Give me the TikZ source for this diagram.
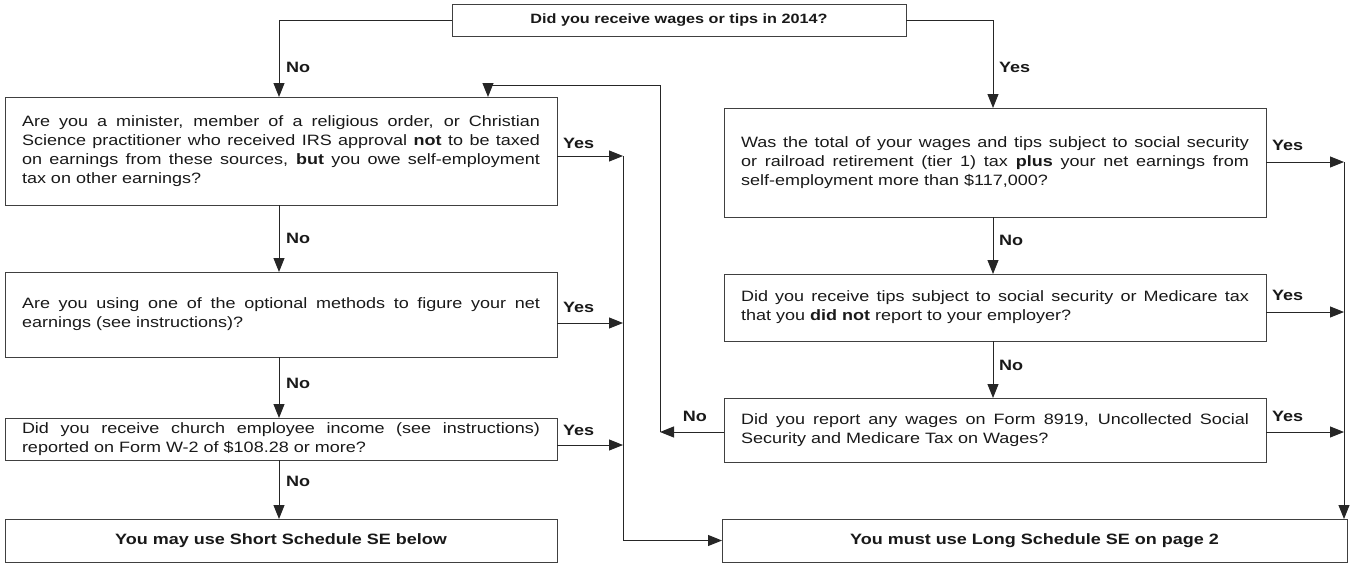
\documentclass[tikz,border=0pt]{standalone}
\usepackage{fontspec}
\setmainfont{Liberation Sans}[FakeStretch=1.2]
\usetikzlibrary{arrows.meta}
\newcommand\qfont{\fontsize{15pt}{19pt}\selectfont}
\newcommand\qtext[2]{\parbox{#1}{\qfont\hyphenpenalty=10000 #2}}
\tikzset{
  qbox/.style={draw=black!75, line width=0.9pt, anchor=north west, inner sep=0pt, outer sep=0pt, text=black!90},
  conn/.style={draw=black!85, line width=1pt},
  arr/.style={conn, -{Triangle[length=14pt,width=11pt]}},
  lbl/.style={font=\qfont\bfseries, inner sep=0pt, text=black!90},
}
\begin{document}
\begin{tikzpicture}[x=1pt,y=-1pt]
\useasboundingbox (0,0) rectangle (1352,565);
% boxes
\node[qbox, minimum width=454pt, minimum height=32pt, font=\fontsize{13.5pt}{16pt}\selectfont\bfseries] (T) at (452,4) {Did you receive wages or tips in 2014?};
\node[qbox, minimum width=552pt, minimum height=108pt] (L1) at (5,97) {\qtext{518pt}{Are you a minister, member of a religious order, or Christian\linebreak Science practitioner who received IRS approval \textbf{not} to be taxed\linebreak on earnings from these sources, \textbf{but} you owe self-employment\linebreak tax on other earnings?}};
\node[qbox, minimum width=552pt, minimum height=85pt] (L2) at (5,272) {\qtext{518pt}{Are you using one of the optional methods to figure your net\linebreak earnings (see instructions)?}};
\node[qbox, minimum width=552pt, minimum height=42pt] (L3) at (5,418) {\qtext{518pt}{Did you receive church employee income (see instructions)\linebreak reported on Form W-2 of \$108.28 or more?}};
\node[qbox, minimum width=552pt, minimum height=43pt, font=\qfont\bfseries] (S) at (5,519) {You may use Short Schedule SE below};
\node[qbox, minimum width=542pt, minimum height=109pt] (R1) at (724,108) {\qtext{508pt}{Was the total of your wages and tips subject to social security\linebreak or railroad retirement (tier 1) tax \textbf{plus} your net earnings from\linebreak self-employment more than \$117,000?}};
\node[qbox, minimum width=542pt, minimum height=67pt] (R2) at (724,274) {\qtext{508pt}{Did you receive tips subject to social security or Medicare tax\linebreak that you \textbf{did not} report to your employer?}};
\node[qbox, minimum width=542pt, minimum height=64pt] (R3) at (724,398) {\qtext{508pt}{Did you report any wages on Form 8919, Uncollected Social\linebreak Security and Medicare Tax on Wages?}};
\node[qbox, minimum width=625pt, minimum height=43pt, font=\qfont\bfseries] (LB) at (722,519) {You must use Long Schedule SE on page 2};
% helper coordinates
\coordinate (nox) at (279,0);
\coordinate (yesx) at (993,0);
\coordinate (loopx) at (660,0);
\coordinate (lt) at (488,85);
\coordinate (ly1) at (623,156);
\coordinate (ly2) at (623,323);
\coordinate (ly3) at (623,445);
\coordinate (ry1) at (1344,162);
\coordinate (ry2) at (1344,312);
\coordinate (ry3) at (1344,432);
% top branches
\draw[arr] (T.west) -| (L1.north -| nox);
\draw[arr] (T.east) -| (R1.north -| yesx);
% left column
\draw[arr] (L1.south -| nox) -- (L2.north -| nox);
\draw[arr] (L2.south -| nox) -- (L3.north -| nox);
\draw[arr] (L3.south -| nox) -- (S.north -| nox);
% right column
\draw[arr] (R1.south -| yesx) -- (R2.north -| yesx);
\draw[arr] (R2.south -| yesx) -- (R3.north -| yesx);
% left yes arrows
\draw[arr] (L1.east |- ly1) -- (ly1);
\draw[arr] (L2.east |- ly2) -- (ly2);
\draw[arr] (L3.east |- ly3) -- (ly3);
\draw[arr] (ly1) |- (LB.west);
% right yes arrows
\draw[arr] (R1.east |- ry1) -- (ry1);
\draw[arr] (R2.east |- ry2) -- (ry2);
\draw[arr] (R3.east |- ry3) -- (ry3);
\draw[arr] (ry1) -- (ry1 |- LB.north);
% loop back
\draw[arr] (R3.west |- ry3) -- (loopx |- ry3);
\draw[arr] (loopx |- ry3) |- (lt) -- (L1.north -| lt);
% labels
\node[lbl, anchor=west] (n1) at (286,67) {No};
\node[lbl, anchor=west] (y0) at (999,67) {Yes};
\node[lbl, anchor=west] (n2) at (286,238) {No};
\node[lbl, anchor=west] (n3) at (286,383) {No};
\node[lbl, anchor=west] (n4) at (286,481) {No};
\node[lbl, anchor=west] (n5) at (999,240) {No};
\node[lbl, anchor=west] (n6) at (999,365) {No};
\node[lbl, anchor=west] (y1) at (563,143) {Yes};
\node[lbl, anchor=west] (y2) at (563,307) {Yes};
\node[lbl, anchor=west] (y3) at (563,430) {Yes};
\node[lbl, anchor=west] (y4) at (1272,145) {Yes};
\node[lbl, anchor=west] (y5) at (1272,295) {Yes};
\node[lbl, anchor=west] (y6) at (1272,416) {Yes};
\node[lbl, anchor=east] (n7) at (707,416) {No};
\end{tikzpicture}
\end{document}
